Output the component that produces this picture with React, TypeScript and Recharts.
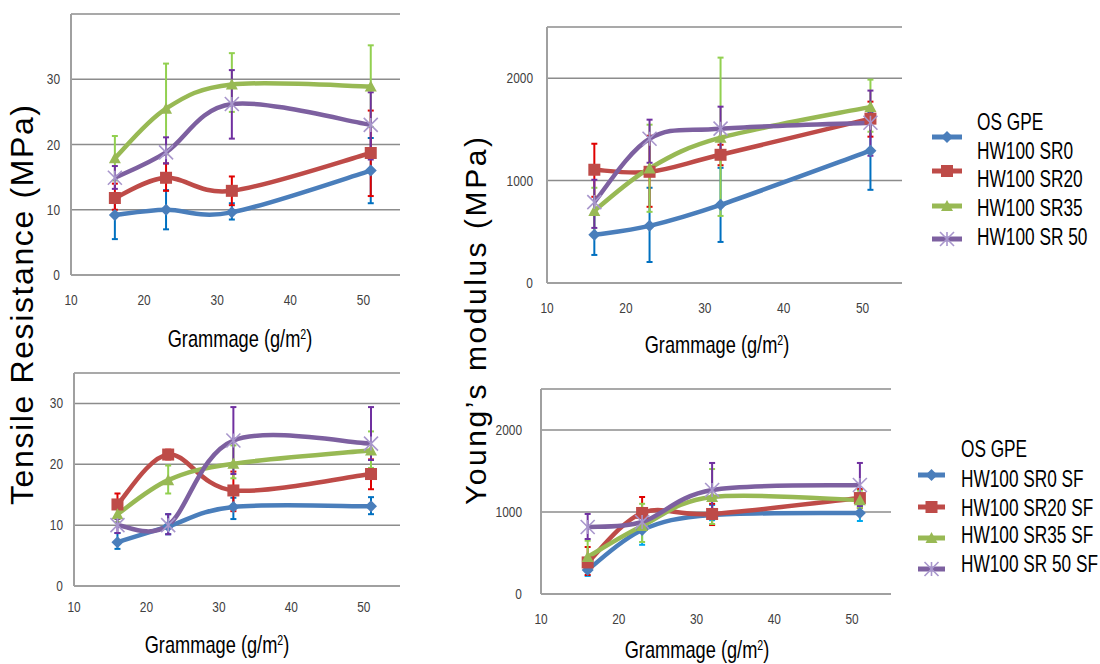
import React from 'react';
import { LineChart, Line, XAxis, YAxis, CartesianGrid, ErrorBar } from 'recharts';

// ---------- data ----------
const grammage = [16, 23, 32, 51];
const xTicks = [10, 20, 30, 40, 50];
const tensileTicks = [0, 10, 20, 30];
const modulusTicks = [0, 1000, 2000];

const legendTitle = 'OS GPE';
const seriesNamesTop = ['HW100 SR0', 'HW100 SR20', 'HW100 SR35', 'HW100 SR 50'];
const seriesNamesBottom = ['HW100 SR0 SF', 'HW100 SR20 SF', 'HW100 SR35 SF', 'HW100 SR 50 SF'];

// Panel A: tensile resistance (MPa)
const tensileMean = [
  [9.2, 10.0, 9.6, 16.0],
  [11.8, 14.9, 12.9, 18.7],
  [17.9, 25.5, 29.2, 28.9],
  [14.9, 18.8, 26.2, 23.0],
];
const tensileLow = [
  [5.5, 7.0, 8.5, 11.0],
  [10.0, 12.9, 10.7, 12.1],
  [14.5, 18.5, 25.0, 22.7],
  [13.2, 17.1, 20.9, 17.7],
];
const tensileHigh = [
  [12.5, 13.0, 11.0, 21.0],
  [14.0, 17.1, 15.1, 25.2],
  [21.3, 32.4, 34.0, 35.2],
  [16.7, 21.1, 31.4, 28.0],
];

// Panel B: Young's modulus (MPa)
const modulusMean = [
  [470, 558, 763, 1292],
  [1106, 1086, 1252, 1605],
  [705, 1120, 1419, 1720],
  [790, 1409, 1507, 1565],
];
const modulusLow = [
  [274, 205, 401, 910],
  [842, 744, 1150, 1429],
  [480, 695, 655, 1477],
  [538, 1174, 1290, 1243],
];
const modulusHigh = [
  [680, 930, 1125, 1670],
  [1360, 1438, 1350, 1771],
  [930, 1546, 2201, 1986],
  [1008, 1595, 1722, 1879],
];

// Panel C: tensile resistance SF (MPa)
const tensileSfMean = [
  [7.2, 9.8, 13.0, 13.1],
  [13.4, 21.6, 15.7, 18.4],
  [11.8, 17.4, 20.1, 22.3],
  [10.0, 10.0, 23.9, 23.4],
];
const tensileSfLow = [
  [6.1, 8.5, 11.0, 11.8],
  [11.5, 20.8, 12.3, 15.9],
  [10.5, 15.2, 17.7, 19.4],
  [8.7, 8.5, 18.4, 20.7],
];
const tensileSfHigh = [
  [8.7, 11.8, 14.5, 14.6],
  [15.2, 22.4, 18.8, 20.8],
  [12.8, 19.8, 23.1, 25.4],
  [11.0, 11.8, 29.4, 29.4],
];

// Panel D: Young's modulus SF (MPa)
const modulusSfMean = [
  [293, 780, 963, 988],
  [385, 988, 976, 1170],
  [451, 829, 1183, 1146],
  [817, 878, 1268, 1329],
];
const modulusSfLow = [
  [220, 600, 900, 890],
  [232, 790, 841, 1050],
  [300, 634, 854, 1050],
  [671, 780, 940, 1073],
];
const modulusSfHigh = [
  [380, 950, 1085, 1080],
  [573, 1183, 1100, 1280],
  [650, 1100, 1524, 1260],
  [976, 980, 1598, 1598],
];

// ---------- styles ----------
const lineColors = ['#4A7EBB', '#BE4B48', '#98B954', '#7D60A0'];
const markerColors = ['#4A7EBB', '#BE4B48', '#98B954', '#A896CC'];
const errColorsA = ['#0070C0', '#E00000', '#92D050', '#7030A0'];
const errColorsB = ['#00A8EC', '#E00000', '#92D050', '#7030A0'];
const markerKinds = ['diamond', 'square', 'triangle', 'star'];
const FONT = '"Liberation Sans", Arial, sans-serif';

// Excel-like smoothed line (cardinal spline, tension 0)
const excelCurve: any = (context: any) => {
  let pts: number[][] = [];
  return {
    areaStart() {},
    areaEnd() {},
    lineStart() {
      pts = [];
    },
    point(x: number, y: number) {
      pts.push([+x, +y]);
    },
    lineEnd() {
      const n = pts.length;
      if (!n) return;
      context.moveTo(pts[0][0], pts[0][1]);
      for (let i = 0; i < n - 1; i++) {
        const p0 = pts[i - 1] || pts[i];
        const p1 = pts[i];
        const p2 = pts[i + 1];
        const p3 = pts[i + 2] || p2;
        context.bezierCurveTo(
          p1[0] + (p2[0] - p0[0]) / 6,
          p1[1] + (p2[1] - p0[1]) / 6,
          p2[0] - (p3[0] - p1[0]) / 6,
          p2[1] - (p3[1] - p1[1]) / 6,
          p2[0],
          p2[1]
        );
      }
    },
  };
};

function Marker({ kind, cx, cy, color, size }: any) {
  const s = size / 2;
  if (kind === 'diamond')
    return <polygon points={`${cx},${cy - s} ${cx + s},${cy} ${cx},${cy + s} ${cx - s},${cy}`} fill={color} />;
  if (kind === 'square') return <rect x={cx - s} y={cy - s} width={2 * s} height={2 * s} fill={color} />;
  if (kind === 'triangle')
    return <polygon points={`${cx},${cy - s} ${cx + s},${cy + s * 0.85} ${cx - s},${cy + s * 0.85}`} fill={color} />;
  return (
    <g stroke={color} strokeWidth={1.6}>
      <line x1={cx - s} y1={cy - s} x2={cx + s} y2={cy + s} />
      <line x1={cx - s} y1={cy + s} x2={cx + s} y2={cy - s} />
      <line x1={cx} y1={cy - s} x2={cx} y2={cy + s} />
    </g>
  );
}

const makeDot = (s: number) => (props: any) => {
  const { cx, cy, index } = props;
  if (cx == null || cy == null) return <g key={`d${s}-${index}`} />;
  return (
    <g key={`d${s}-${index}`}>
      <Marker kind={markerKinds[s]} cx={cx} cy={cy} color={markerColors[s]} size={s === 3 ? 14 : 12} />
    </g>
  );
};

const makeXTick = (dy: number) => (props: any) => {
  const { x, y, payload } = props;
  return (
    <g transform={`translate(${x},${y + dy}) scale(0.85,1)`}>
      <text x={0} y={0} textAnchor="middle" fontFamily={FONT} fontSize={14} fill="#404040">
        {payload.value}
      </text>
    </g>
  );
};

const makeYTick = (dx: number) => (props: any) => {
  const { x, y, payload } = props;
  return (
    <g transform={`translate(${x - dx},${y + 5}) scale(0.85,1)`}>
      <text x={0} y={0} textAnchor="end" fontFamily={FONT} fontSize={14} fill="#404040">
        {payload.value}
      </text>
    </g>
  );
};

function Panel(p: any) {
  const data = grammage.map((g, i) => {
    const row: any = { g };
    p.means.forEach((m: number[], s: number) => {
      row['s' + s] = m[i];
      row['e' + s] = [m[i] - p.lows[s][i], p.highs[s][i] - m[i]];
    });
    return row;
  });
  return (
    <div style={{ position: 'absolute', left: p.left, top: p.top }}>
      <LineChart width={p.width} height={p.height} data={data} margin={p.margin}>
        <CartesianGrid horizontal vertical={false} stroke="#8C8C8C" strokeWidth={1.5} />
        <XAxis
          dataKey="g"
          type="number"
          domain={[10, 55]}
          ticks={xTicks}
          height={30}
          tickSize={0}
          tickMargin={0}
          tickLine={false}
          axisLine={{ stroke: '#A0A0A0', strokeWidth: 2 }}
          tick={makeXTick(p.xTickDy)}
          interval={0}
        />
        <YAxis
          type="number"
          domain={p.yDomain}
          ticks={p.yTicks}
          width={p.yWidth}
          tickSize={0}
          tickMargin={0}
          tickLine={false}
          axisLine={{ stroke: '#A0A0A0', strokeWidth: 2 }}
          tick={makeYTick(p.yTickDx)}
          interval={0}
          allowDataOverflow
        />
        {p.means.map((_: any, s: number) => (
          <Line
            key={s}
            dataKey={'s' + s}
            type={excelCurve}
            stroke={lineColors[s]}
            strokeWidth={4.5}
            dot={makeDot(s)}
            activeDot={false}
            isAnimationActive={false}
          >
            <ErrorBar
              dataKey={'e' + s}
              direction="y"
              width={3}
              stroke={p.errColors[s]}
              strokeWidth={2}
              isAnimationActive={false}
            />
          </Line>
        ))}
      </LineChart>
    </div>
  );
}

function Legend({ x, iconX1, iconX2, titleY, textYs, iconYs, names, fontSize, scale }: any) {
  return (
    <g>
      <g transform={`translate(${x},${titleY}) scale(${scale},1)`}>
        <text fontFamily={FONT} fontSize={fontSize} fill="#000">
          {legendTitle}
        </text>
      </g>
      {names.map((n: string, i: number) => (
        <g key={n}>
          <line x1={iconX1} x2={iconX2} y1={iconYs[i]} y2={iconYs[i]} stroke={lineColors[i]} strokeWidth={5} />
          <Marker
            kind={markerKinds[i]}
            cx={(iconX1 + iconX2) / 2}
            cy={iconYs[i]}
            color={markerColors[i]}
            size={i === 3 ? 14 : 12}
          />
          <g transform={`translate(${x},${textYs[i]}) scale(${scale},1)`}>
            <text fontFamily={FONT} fontSize={fontSize} fill="#000">
              {n}
            </text>
          </g>
        </g>
      ))}
    </g>
  );
}

function XTitle({ cx, y }: any) {
  return (
    <g transform={`translate(${cx},${y}) scale(0.76,1)`}>
      <text textAnchor="middle" fontFamily={FONT} fontSize={24} fill="#000">
        Grammage (g/m
        <tspan dy={-8} fontSize={14}>
          2
        </tspan>
        <tspan dy={8}>)</tspan>
      </text>
    </g>
  );
}

export default function App() {
  return (
    <div style={{ position: 'absolute', left: 0, top: 0, width: 1100, height: 664, background: '#fff', overflow: 'hidden' }}>
      <Panel
        left={0}
        top={0}
        width={460}
        height={360}
        margin={{ top: 14, left: 31, right: 60, bottom: 55 }}
        yWidth={40}
        yDomain={[0, 40]}
        yTicks={tensileTicks}
        means={tensileMean}
        lows={tensileLow}
        highs={tensileHigh}
        errColors={errColorsA}
        xTickDy={30}
        yTickDx={11}
      />
      <Panel
        left={460}
        top={0}
        width={640}
        height={370}
        margin={{ top: 27, left: 37, right: 198, bottom: 57 }}
        yWidth={50}
        yDomain={[0, 2500]}
        yTicks={modulusTicks}
        means={modulusMean}
        lows={modulusLow}
        highs={modulusHigh}
        errColors={errColorsA}
        xTickDy={30}
        yTickDx={14}
      />
      <Panel
        left={0}
        top={360}
        width={460}
        height={304}
        margin={{ top: 13, left: 34, right: 60, bottom: 48 }}
        yWidth={40}
        yDomain={[0, 35]}
        yTicks={tensileTicks}
        means={tensileSfMean}
        lows={tensileSfLow}
        highs={tensileSfHigh}
        errColors={errColorsA}
        xTickDy={26}
        yTickDx={11}
      />
      <Panel
        left={460}
        top={370}
        width={640}
        height={294}
        margin={{ top: 19, left: 31, right: 209, bottom: 40 }}
        yWidth={50}
        yDomain={[0, 2500]}
        yTicks={modulusTicks}
        means={modulusSfMean}
        lows={modulusSfLow}
        highs={modulusSfHigh}
        errColors={errColorsB}
        xTickDy={30}
        yTickDx={19}
      />
      <svg width={1100} height={664} style={{ position: 'absolute', left: 0, top: 0, pointerEvents: 'none' }}>
        <text
          transform="translate(33,305) rotate(-90)"
          textAnchor="middle"
          fontFamily={FONT}
          fontSize={32}
          textLength={400}
          lengthAdjust="spacing"
          fill="#000"
        >
          Tensile Resistance (MPa)
        </text>
        <text
          transform="translate(486,321) rotate(-90)"
          textAnchor="middle"
          fontFamily={FONT}
          fontSize={30}
          textLength={368}
          lengthAdjust="spacing"
          fill="#000"
        >
          Young’s modulus (MPa)
        </text>
        <XTitle cx={240} y={347} />
        <XTitle cx={717} y={353} />
        <XTitle cx={217} y={653} />
        <XTitle cx={697} y={658} />
        <Legend
          x={977}
          iconX1={932}
          iconX2={962}
          titleY={130}
          textYs={[159, 187, 216, 245]}
          iconYs={[137, 171, 206, 239]}
          names={seriesNamesTop}
          fontSize={24}
          scale={0.72}
        />
        <Legend
          x={961}
          iconX1={918}
          iconX2={945}
          titleY={457}
          textYs={[487, 516, 543, 572]}
          iconYs={[475, 507, 538, 569]}
          names={seriesNamesBottom}
          fontSize={23}
          scale={0.75}
        />
      </svg>
    </div>
  );
}
